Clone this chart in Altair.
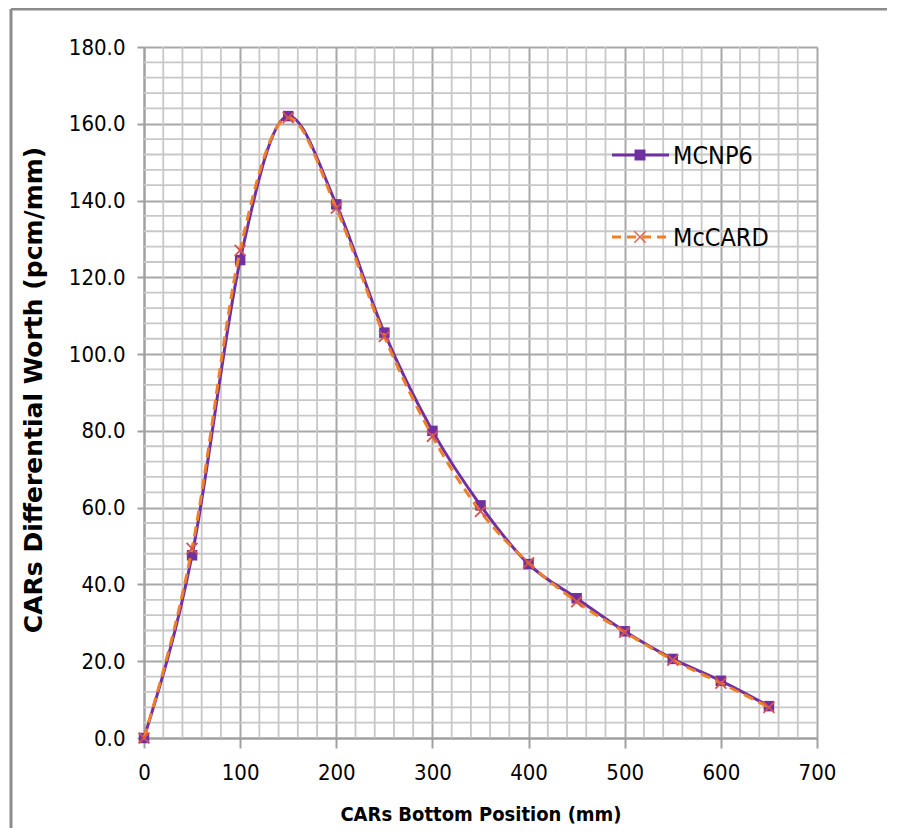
import altair as alt
import pandas as pd
import numpy as np

positions = [0, 50, 100, 150, 200, 250, 300, 350, 400, 450, 500, 550, 600, 650]
mcnp6 = [0.0, 47.6, 124.5, 162.0, 139.0, 105.6, 80.0, 60.6, 45.3, 36.4, 27.8, 20.6, 14.9, 8.3]
mccard = [0.0, 49.4, 127.0, 161.6, 138.0, 104.6, 78.6, 59.0, 45.6, 35.5, 27.6, 20.3, 14.3, 8.0]

x_major = [0, 100, 200, 300, 400, 500, 600, 700]
y_major = [0, 20, 40, 60, 80, 100, 120, 140, 160, 180]
x_minor = [v for v in range(0, 701, 20) if v % 100 != 0]
y_minor = [v for v in range(0, 181, 4) if v % 20 != 0]

W, H = 673, 691
NARROW = "DejaVu Sans Condensed, Liberation Sans, sans-serif"

df1 = pd.DataFrame({"pos": positions, "val": mcnp6})
df2 = pd.DataFrame({"pos": positions, "val": mccard})

xs = alt.Scale(domain=[0, 700], nice=False, zero=False)
ys = alt.Scale(domain=[0, 180], nice=False, zero=False)

xaxis = alt.Axis(values=x_major, grid=True, gridColor="#a8a8a8", gridWidth=2,
                 domainColor="#a0a0a0", domainWidth=2, tickColor="#a0a0a0", tickWidth=2,
                 tickSize=10, labelFont=NARROW, labelFontSize=22, labelColor="#000000",
                 labelPadding=14, labelFlush=False, title="CARs Bottom Position (mm)",
                 titleFont=NARROW, titleFontSize=20, titleFontWeight="bold",
                 titleColor="#000000", titleX=W / 2, titleY=76, titleBaseline="middle",
                 titleAnchor="middle")
yaxis = alt.Axis(values=y_major, grid=True, gridColor="#a8a8a8", gridWidth=2,
                 domainColor="#a0a0a0", domainWidth=2, tickColor="#a0a0a0", tickWidth=2,
                 tickSize=7, labelFont=NARROW, labelFontSize=22, labelColor="#000000",
                 labelPadding=12, labelFlush=False, format=".1f",
                 title="CARs Differential Worth (pcm/mm)",
                 titleFont="DejaVu Sans", titleFontSize=25, titleFontWeight="bold",
                 titleColor="#000000", titleX=-111, titleY=H / 2 - 3, titleAngle=-90,
                 titleBaseline="middle", titleAnchor="middle")

vgrid = alt.Chart(pd.DataFrame({"g": x_minor})).mark_rule(
    color="#c8c8c8", strokeWidth=1.8).encode(
    x=alt.X("g:Q", scale=xs, axis=xaxis))
hgrid = alt.Chart(pd.DataFrame({"g": y_minor})).mark_rule(
    color="#c8c8c8", strokeWidth=1.8).encode(
    y=alt.Y("g:Q", scale=ys, axis=yaxis))

xpath = "M-1,-1L1,1M1,-1L-1,1"

line1 = alt.Chart(df1).mark_line(color="#7030A0", strokeWidth=3, interpolate="monotone").encode(
    x=alt.X("pos:Q", scale=xs), y=alt.Y("val:Q", scale=ys))
pts1 = alt.Chart(df1).mark_point(shape="square", filled=True, color="#7030A0", size=110, opacity=1).encode(
    x=alt.X("pos:Q", scale=xs), y=alt.Y("val:Q", scale=ys))
line2 = alt.Chart(df2).mark_line(color="#F07F2A", strokeWidth=3, strokeDash=[10, 6],
                                 interpolate="monotone").encode(
    x=alt.X("pos:Q", scale=xs), y=alt.Y("val:Q", scale=ys))
pts2 = alt.Chart(df2).mark_point(shape=xpath, filled=False, color="#D9534F", size=120,
                                 strokeWidth=1.8, opacity=1).encode(
    x=alt.X("pos:Q", scale=xs), y=alt.Y("val:Q", scale=ys))

one = pd.DataFrame({"a": [0]})
leg_line1 = alt.Chart(one).mark_rule(color="#7030A0", strokeWidth=3).encode(
    x=alt.value(468), x2=alt.value(525), y=alt.value(108))
leg_pt1 = alt.Chart(one).mark_point(shape="square", filled=True, color="#7030A0", size=120, opacity=1).encode(
    x=alt.value(496), y=alt.value(108))
leg_txt1 = alt.Chart(pd.DataFrame({"t": ["MCNP6"]})).mark_text(
    font=NARROW, fontSize=25, align="left", baseline="middle", color="#000000").encode(
    x=alt.value(529), y=alt.value(109), text="t:N")
leg_line2 = alt.Chart(one).mark_rule(color="#F07F2A", strokeWidth=3, strokeDash=[9, 6]).encode(
    x=alt.value(468), x2=alt.value(525), y=alt.value(190))
leg_pt2 = alt.Chart(one).mark_point(shape=xpath, filled=False, color="#E0604A", size=130,
                                    strokeWidth=1.4, opacity=1).encode(
    x=alt.value(496), y=alt.value(190))
leg_txt2 = alt.Chart(pd.DataFrame({"t": ["McCARD"]})).mark_text(
    font=NARROW, fontSize=25, align="left", baseline="middle", color="#000000").encode(
    x=alt.value(529), y=alt.value(191), text="t:N")

frame_top = alt.Chart(one).mark_rule(color="#8c8c8c", strokeWidth=3).encode(
    x=alt.value(-133), x2=alt.value(760), y=alt.value(-38))
frame_left = alt.Chart(one).mark_rule(color="#8c8c8c", strokeWidth=3).encode(
    x=alt.value(-133), y=alt.value(-38), y2=alt.value(H + 95))

chart = alt.layer(
    vgrid, hgrid, line1, pts1, line2, pts2,
    leg_line1, leg_pt1, leg_txt1, leg_line2, leg_pt2, leg_txt2,
    frame_top, frame_left,
).properties(
    width=W, height=H,
    autosize=alt.AutoSizeParams(type="none"),
    padding={"left": 136, "top": 39, "right": 70, "bottom": 90},
).configure_view(stroke=None).configure(background="#ffffff")

chart.save("out.html", embed_options={"renderer": "svg", "actions": False})
